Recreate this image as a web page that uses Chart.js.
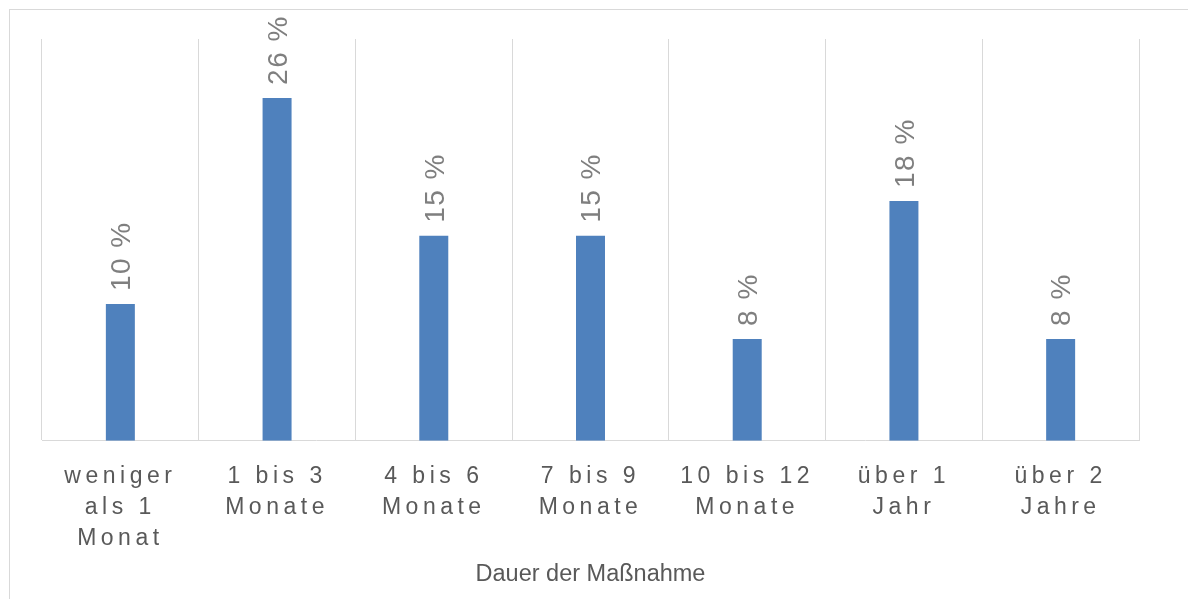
<!DOCTYPE html>
<html>
<head>
<meta charset="utf-8">
<script src="https://cdn.jsdelivr.net/npm/chart.js@4/dist/chart.umd.min.js"></script>
<style>
  html, body { margin: 0; padding: 0; background: #fff; }
  #wrap { position: relative; width: 1188px; height: 599px; }
  #frame {
    position: absolute; left: 9px; top: 9px; right: -2px; bottom: -2px;
    border-left: 1px solid #d9d9d9; border-top: 1px solid #d9d9d9;
    pointer-events: none;
  }
</style>
</head>
<body>
<div id="wrap">
  <canvas id="chart" width="1188" height="599"></canvas>
  <div id="frame"></div>
</div>
<script>
// Kategorien (mehrzeilige Achsenbeschriftung)
const kategorien = [
  ['weniger', 'als 1', 'Monat'],
  ['1 bis 3', 'Monate'],
  ['4 bis 6', 'Monate'],
  ['7 bis 9', 'Monate'],
  ['10 bis 12', 'Monate'],
  ['über 1', 'Jahr'],
  ['über 2', 'Jahre']
];
const anteile = [10.2, 25.6, 15.3, 15.3, 7.6, 17.9, 7.6];
// Beschriftungen über den Balken
const beschriftungen = ['10 %', '26 %', '15 %', '15 %', '8 %', '18 %', '8 %'];
const achsenTitel = 'Dauer der Maßnahme';

const schrift = '"Liberation Sans", Arial, sans-serif';

// Datenbeschriftungen senkrecht über den Balken + Buchstabenabstand für die Ticks
const balkenBeschriftung = {
  id: 'balkenBeschriftung',
  afterDatasetsDraw(chart) {
    const ctx = chart.ctx;
    const meta = chart.getDatasetMeta(0);
    ctx.save();
    ctx.font = '28px ' + schrift;
    ctx.fillStyle = '#7f7f7f';
    ctx.letterSpacing = '1.5px';
    ctx.textAlign = 'left';
    ctx.textBaseline = 'middle';
    meta.data.forEach((bar, i) => {
      ctx.save();
      ctx.translate(bar.x + 2, bar.y - 13);
      ctx.rotate(-Math.PI / 2);
      ctx.fillText(beschriftungen[i], 0, 0);
      ctx.restore();
    });
    ctx.restore();
    // Tick-Beschriftungen (z: 1) werden danach gezeichnet
    ctx.letterSpacing = '4.5px';
  },
  afterDraw(chart) {
    chart.ctx.letterSpacing = '0px';
  }
};

new Chart(document.getElementById('chart').getContext('2d'), {
  type: 'bar',
  data: {
    labels: kategorien,
    datasets: [{
      data: anteile,
      backgroundColor: '#4f81bd',
      borderWidth: 0,
      barPercentage: 0.185,
      categoryPercentage: 1
    }]
  },
  options: {
    responsive: false,
    animation: false,
    layout: {
      padding: { left: 42, right: 49, top: 39, bottom: 10 }
    },
    plugins: {
      legend: { display: false },
      tooltip: { enabled: false }
    },
    scales: {
      x: {
        grid: {
          color: '#d9d9d9',
          lineWidth: 1,
          drawTicks: false,
          offset: true
        },
        border: { color: '#d9d9d9', width: 1 },
        ticks: {
          z: 1,
          color: '#595959',
          padding: 20,
          maxRotation: 0,
          autoSkip: false,
          font: { family: schrift, size: 23, lineHeight: 1.35 }
        },
        title: {
          display: true,
          text: achsenTitel,
          color: '#595959',
          padding: { top: -13, bottom: 0 },
          font: { family: schrift, size: 23.5 }
        }
      },
      y: {
        display: false,
        min: 0,
        max: 30
      }
    }
  },
  plugins: [balkenBeschriftung]
});
</script>
</body>
</html>
